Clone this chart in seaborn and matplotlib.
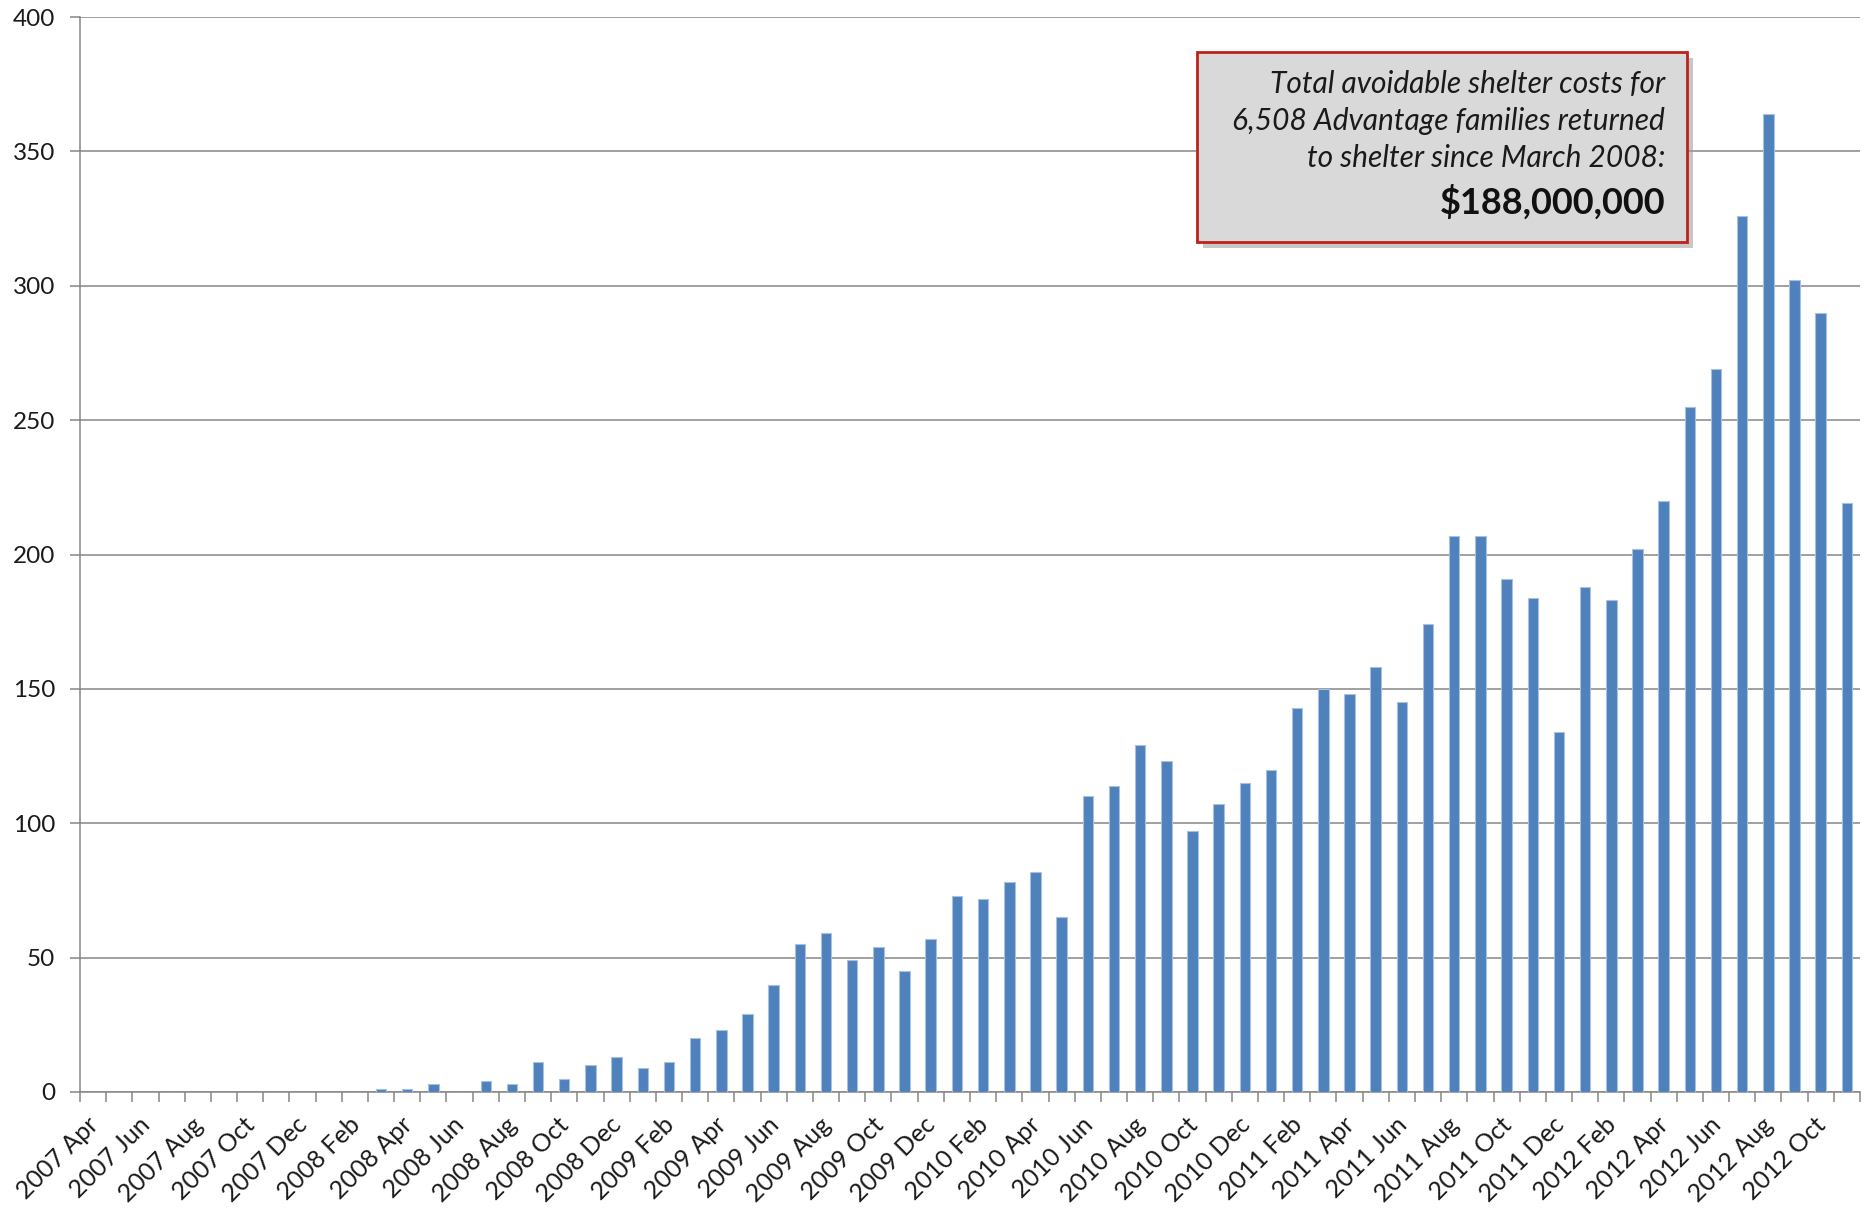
import numpy as np
import pandas as pd
import matplotlib
matplotlib.use("Agg")
import matplotlib.pyplot as plt
import matplotlib.transforms as mtrans
from matplotlib.patches import Rectangle
import seaborn as sns

# 月份（2007 Apr - 2012 Nov）
months = pd.period_range("2007-04", "2012-11", freq="M")
month_labels = [m.strftime("%Y %b") for m in months]

# 每月回到收容所的家庭数
families = [0, 0, 0, 0, 0, 0, 0, 0, 0,                      # 2007 Apr-Dec
            0, 0, 1, 1, 3, 0, 4, 3, 11, 5, 10, 13,           # 2008
            9, 11, 20, 23, 29, 40, 55, 59, 49, 54, 45, 57,   # 2009
            73, 72, 78, 82, 65, 110, 114, 129, 123, 97, 107, 115,   # 2010
            120, 143, 150, 148, 158, 145, 174, 207, 207, 191, 184, 134,  # 2011
            188, 183, 202, 220, 255, 269, 326, 364, 302, 290, 219]  # 2012

y_ticks = list(range(0, 401, 50))

box_lines = ["Total avoidable shelter costs for",
             "6,508 Advantage families returned",
             "to shelter since March 2008:"]
box_total = "$188,000,000"

df = pd.DataFrame({"month": month_labels, "families": families})

sns.set_style("white")
plt.rcParams["font.family"] = ["Lato", "DejaVu Sans"]

W, H = 1872, 1210
fig = plt.figure(figsize=(W / 100, H / 100), dpi=100)
ax = fig.add_axes([80 / W, 1 - 1092 / H, (1860 - 80) / W, (1092 - 17) / H])

sns.barplot(data=df, x="month", y="families", color="#4F81BD", width=0.4,
            saturation=1, edgecolor="#a9c1de", linewidth=0.8, ax=ax, zorder=3)

grey = "#868686"
ax.set_ylim(0, 400)
ax.set_xlim(-0.5, len(month_labels) - 0.5)
ax.set_yticks(y_ticks)
ax.yaxis.grid(True, color=grey, linewidth=1.1)
ax.set_axisbelow(True)
for s in ["top", "right"]:
    ax.spines[s].set_visible(False)
for s in ["left", "bottom"]:
    ax.spines[s].set_color(grey)
    ax.spines[s].set_linewidth(1.1)
ax.set_xlabel("")
ax.set_ylabel("")

# y轴刻度
ax.tick_params(axis="y", which="major", left=True, length=7, width=1.1, color=grey,
               labelsize=17.5, pad=11, labelcolor="#1a1a1a")

# x轴：类别边界处小刻度，标签每两个月一个
ax.set_xticks(np.arange(-0.5, len(month_labels), 1.0), minor=True)
ax.set_xticks(range(0, len(month_labels), 2))
ax.set_xticklabels(month_labels[::2], rotation=45, ha="right", va="top",
                   rotation_mode="anchor", fontsize=18, color="#1a1a1a")
ax.tick_params(axis="x", which="minor", bottom=True, length=7, width=1.1, color=grey)
ax.tick_params(axis="x", which="major", bottom=False, length=0, pad=15)
offset = mtrans.ScaledTranslation(-7 / 100, 0, fig.dpi_scale_trans)
for lab in ax.get_xticklabels():
    lab.set_transform(lab.get_transform() + offset)

# 注释框
bx0, by0, bx1, by1 = 1197, 52, 1687, 242
fig.patches.append(Rectangle(((bx0 + 6) / W, 1 - (by1 + 6) / H), (bx1 - bx0) / W, (by1 - by0) / H,
                             transform=fig.transFigure, facecolor="#9a9a9a", alpha=0.55,
                             edgecolor="none", zorder=5))
fig.patches.append(Rectangle((bx0 / W, 1 - by1 / H), (bx1 - bx0) / W, (by1 - by0) / H,
                             transform=fig.transFigure, facecolor="#d9d9d9",
                             edgecolor="#c0201a", linewidth=2, zorder=6))
tx = 1665 / W
for i, line in enumerate(box_lines):
    fig.text(tx, 1 - (84 + 37 * i) / H, line, ha="right", va="center", fontsize=21.5,
             style="italic", color="#1a1a1a", zorder=7)
fig.text(tx, 1 - 202 / H, box_total, ha="right", va="center", fontsize=26,
         fontweight="bold", color="#111111", zorder=7)

fig.savefig("out.png", dpi=100)
